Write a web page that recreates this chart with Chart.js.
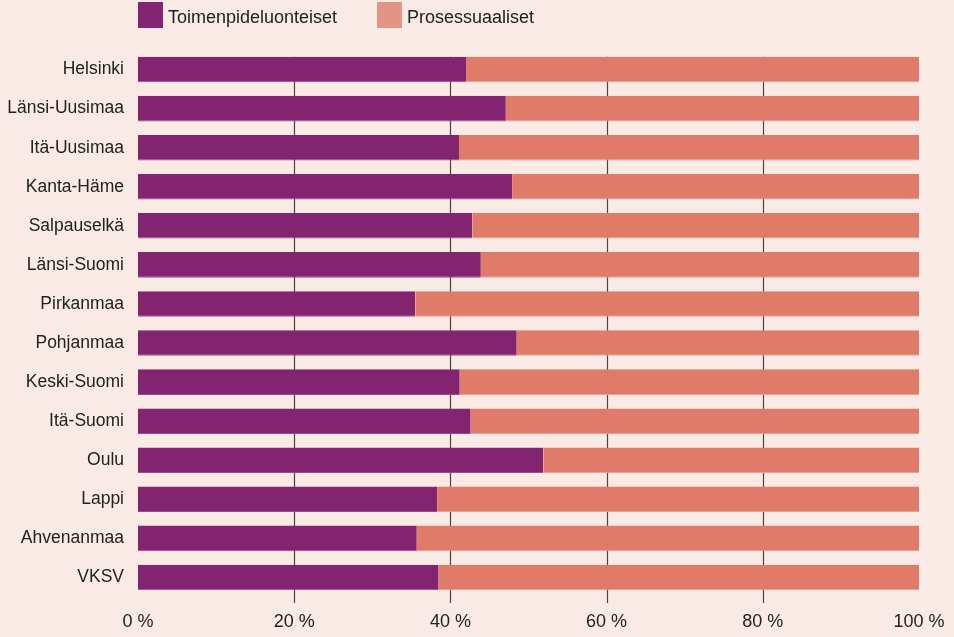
<!DOCTYPE html>
<html>
<head>
<meta charset="utf-8">
<script src="https://cdn.jsdelivr.net/npm/chart.js@4/dist/chart.umd.min.js"></script>
<style>
  html, body { margin: 0; padding: 0; background: #f9eae6; }
  #wrap { width: 954px; height: 637px; position: relative; }
</style>
</head>
<body>
<div id="wrap"><canvas id="myChart"></canvas></div>
<script>
// regions, top to bottom
const regions = ['Helsinki', 'Länsi-Uusimaa', 'Itä-Uusimaa', 'Kanta-Häme', 'Salpauselkä',
  'Länsi-Suomi', 'Pirkanmaa', 'Pohjanmaa', 'Keski-Suomi', 'Itä-Suomi', 'Oulu', 'Lappi',
  'Ahvenanmaa', 'VKSV'];

// share of "Toimenpideluonteiset" (%)
const toimenpide = [42.0, 47.1, 41.1, 47.9, 42.8, 43.9, 35.5, 48.5, 41.2, 42.6, 51.9, 38.3, 35.7, 38.5];
// the rest is "Prosessuaaliset"
const prosessuaali = toimenpide.map(v => +(100 - v).toFixed(1));

const xTicks = [0, 20, 40, 60, 80, 100];
const gridAt = [20, 40, 60, 80];

const FONT = '"Liberation Sans", Arial, sans-serif';

// gridlines only between bars, plus a small tick below the plot
const gridPlugin = {
  id: 'gridBetween',
  beforeDatasetsDraw(chart) {
    const ctx = chart.ctx;
    const x = chart.scales.x;
    const meta = chart.getDatasetMeta(0);
    const top = meta.data[0].y - meta.data[0].height / 2;
    ctx.save();
    ctx.strokeStyle = '#4a4446';
    ctx.lineWidth = 1.2;
    gridAt.forEach(v => {
      const px = Math.round(x.getPixelForValue(v)) + 0.5;
      ctx.beginPath();
      ctx.moveTo(px, top);
      ctx.lineTo(px, chart.chartArea.bottom + 6);
      ctx.stroke();
    });
    ctx.restore();
  }
};

// legend drawn at the chart area's left edge
const legendPlugin = {
  id: 'topLegend',
  afterDraw(chart) {
    const ctx = chart.ctx;
    const colors = ['#822470', '#e39484'];
    let left = chart.chartArea.left;
    ctx.save();
    ctx.font = '18px ' + FONT;
    ctx.textBaseline = 'middle';
    chart.data.datasets.forEach((ds, i) => {
      ctx.fillStyle = colors[i];
      ctx.fillRect(left, 2, 25, 26);
      ctx.fillStyle = '#222';
      ctx.fillText(ds.label, left + 30, 18);
      left += 239;
    });
    ctx.restore();
  }
};

const ctx = document.getElementById('myChart').getContext('2d');
new Chart(ctx, {
  type: 'bar',
  data: {
    labels: regions,
    datasets: [{
      label: 'Toimenpideluonteiset',
      data: toimenpide,
      backgroundColor: '#822470',
      borderColor: '#9a4a8a',
      borderWidth: {bottom: 1, top: 0, left: 0, right: 0},
      borderSkipped: false,
      barPercentage: 0.655,
      categoryPercentage: 1
    }, {
      label: 'Prosessuaaliset',
      data: prosessuaali,
      backgroundColor: '#e07b6a',
      borderColor: '#e9a093',
      borderWidth: {bottom: 1, top: 0, left: 0, right: 0},
      borderSkipped: false,
      barPercentage: 0.655,
      categoryPercentage: 1
    }]
  },
  options: {
    indexAxis: 'y',
    responsive: true,
    maintainAspectRatio: false,
    animation: false,
    layout: { padding: { top: 50, right: 35, left: 0, bottom: 0 } },
    plugins: {
      legend: { display: false },
      tooltip: { enabled: false }
    },
    scales: {
      x: {
        stacked: true,
        min: 0,
        max: 100,
        afterBuildTicks: (axis) => { axis.ticks = xTicks.map(v => ({ value: v })); },
        afterFit: (axis) => { axis.height = 40; },
        border: { display: false },
        grid: { display: false },
        ticks: {
          padding: 6,
          color: '#222',
          font: { family: FONT, size: 18 },
          maxRotation: 0,
          callback: (v) => v + ' %'
        }
      },
      y: {
        stacked: true,
        afterFit: (axis) => { axis.width = 138; },
        border: { display: false },
        grid: { display: false },
        ticks: {
          padding: 6,
          color: '#222',
          font: { family: FONT, size: 17.5 }
        }
      }
    }
  },
  plugins: [gridPlugin, legendPlugin]
});
</script>
</body>
</html>
